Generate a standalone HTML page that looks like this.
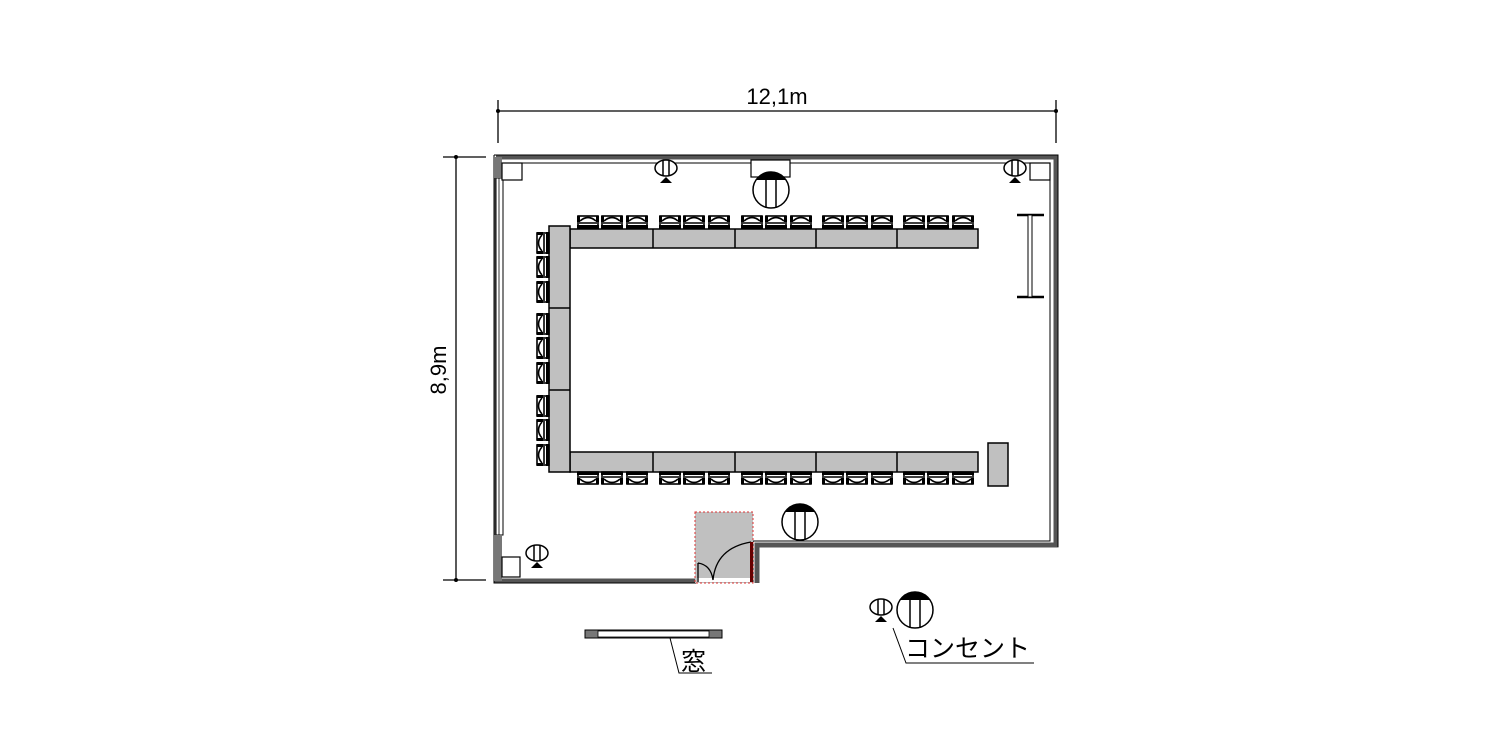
<!DOCTYPE html>
<html><head><meta charset="utf-8"><style>
html,body{margin:0;padding:0;background:#fff;width:1500px;height:750px;overflow:hidden}
svg{display:block}
text{font-family:"Liberation Sans","Noto Sans CJK JP",sans-serif;fill:#000}
</style></head><body>
<svg width="1500" height="750" viewBox="0 0 1500 750" xmlns="http://www.w3.org/2000/svg">
<defs>
  <g id="chair">
    <rect x="-10" y="-6" width="20" height="12" fill="#fff" stroke="#000" stroke-width="1.6"/>
    <path d="M-8,-1 Q0,-8 8,-1" fill="none" stroke="#000" stroke-width="1.6"/>
    <line x1="-9" y1="1" x2="9" y2="1" stroke="#000" stroke-width="1.6"/>
    <rect x="-11" y="3" width="22" height="3.5" fill="#000"/>
    <rect x="-11" y="-6" width="3" height="6" fill="#000"/>
    <rect x="8" y="-6" width="3" height="6" fill="#000"/>
  </g>
  <g id="outS">
    <ellipse cx="0" cy="0" rx="11" ry="8" fill="#fff" stroke="#000" stroke-width="1.5"/>
    <line x1="-3" y1="-8" x2="-3" y2="8" stroke="#000" stroke-width="1.5"/>
    <line x1="3" y1="-8" x2="3" y2="8" stroke="#000" stroke-width="1.5"/>
    <polygon points="0,9 -6,15 6,15" fill="#000"/>
  </g>
  <g id="outB">
    <circle cx="0" cy="0" r="18" fill="#fff" stroke="#000" stroke-width="1.5"/>
    <path d="M-15,-10 A18,18 0 0 1 15,-10 Z" fill="#000"/>
    <line x1="-5" y1="-10" x2="-5" y2="18" stroke="#000" stroke-width="1.5"/>
    <line x1="5" y1="-10" x2="5" y2="18" stroke="#000" stroke-width="1.5"/>
  </g>
</defs>

<g stroke="#000" stroke-width="1.3">
  <line x1="498" y1="111" x2="1056" y2="111"/>
  <line x1="498" y1="100" x2="498" y2="143"/>
  <line x1="1056" y1="100" x2="1056" y2="143"/>
  <line x1="456" y1="157" x2="456" y2="580"/>
  <line x1="443" y1="157" x2="486" y2="157"/>
  <line x1="443" y1="580" x2="486" y2="580"/>
</g>
<circle cx="498" cy="111" r="2" fill="#000"/><circle cx="1056" cy="111" r="2" fill="#000"/>
<circle cx="456" cy="157" r="2" fill="#000"/><circle cx="456" cy="580" r="2" fill="#000"/>
<text x="777" y="104" font-size="22" text-anchor="middle">12,1m</text>
<text transform="translate(446,370) rotate(-90)" font-size="22" text-anchor="middle">8,9m</text>

<g fill="none" stroke="#555" stroke-width="5">
  <path d="M496,157 H1056 V545 H757 V583"/>
  <path d="M496,157 V581 H697"/>
</g>
<g fill="none" stroke="#000" stroke-width="1">
  <path d="M494,155 H1058 V547"/>
  <path d="M502,163 H1050 V541 H753 V583"/>
  <path d="M494,155 V583 H697"/>
</g>
<rect x="496" y="178" width="7" height="357" fill="#fff" stroke="#000" stroke-width="1"/>
<line x1="499" y1="178" x2="499" y2="535" stroke="#000" stroke-width="0.8"/>
<rect x="494" y="157" width="8" height="21" fill="#777"/>
<rect x="494" y="535" width="8" height="46" fill="#777"/>
<g fill="#fff" stroke="#000" stroke-width="1.2">
  <rect x="502" y="163" width="20" height="17"/>
  <rect x="1030" y="163" width="20" height="17"/>
  <rect x="502" y="557" width="18" height="20"/>
  <rect x="751" y="160" width="39" height="17"/>
</g>

<g fill="#c0c0c0" stroke="#000" stroke-width="1.5">
  <rect x="570" y="229" width="408" height="19"/>
  <rect x="570" y="452" width="408" height="20"/>
  <rect x="549" y="226" width="21" height="246"/>
  <rect x="988" y="443" width="20" height="43"/>
</g>
<g stroke="#000" stroke-width="1.5">
  <line x1="653" y1="229" x2="653" y2="248"/><line x1="735" y1="229" x2="735" y2="248"/>
  <line x1="816" y1="229" x2="816" y2="248"/><line x1="897" y1="229" x2="897" y2="248"/>
  <line x1="653" y1="452" x2="653" y2="472"/><line x1="735" y1="452" x2="735" y2="472"/>
  <line x1="816" y1="452" x2="816" y2="472"/><line x1="897" y1="452" x2="897" y2="472"/>
  <line x1="549" y1="308" x2="570" y2="308"/><line x1="549" y1="390" x2="570" y2="390"/>
</g>
<g>
  <use href="#chair" x="588" y="222"/><use href="#chair" x="612" y="222"/><use href="#chair" x="637" y="222"/>
  <use href="#chair" x="670" y="222"/><use href="#chair" x="694" y="222"/><use href="#chair" x="719" y="222"/>
  <use href="#chair" x="752" y="222"/><use href="#chair" x="776" y="222"/><use href="#chair" x="801" y="222"/>
  <use href="#chair" x="833" y="222"/><use href="#chair" x="857" y="222"/><use href="#chair" x="882" y="222"/>
  <use href="#chair" x="914" y="222"/><use href="#chair" x="938" y="222"/><use href="#chair" x="963" y="222"/>
</g>
<g>
  <g transform="translate(588,478) rotate(180)"><use href="#chair"/></g>
  <g transform="translate(612,478) rotate(180)"><use href="#chair"/></g>
  <g transform="translate(637,478) rotate(180)"><use href="#chair"/></g>
  <g transform="translate(670,478) rotate(180)"><use href="#chair"/></g>
  <g transform="translate(694,478) rotate(180)"><use href="#chair"/></g>
  <g transform="translate(719,478) rotate(180)"><use href="#chair"/></g>
  <g transform="translate(752,478) rotate(180)"><use href="#chair"/></g>
  <g transform="translate(776,478) rotate(180)"><use href="#chair"/></g>
  <g transform="translate(801,478) rotate(180)"><use href="#chair"/></g>
  <g transform="translate(833,478) rotate(180)"><use href="#chair"/></g>
  <g transform="translate(857,478) rotate(180)"><use href="#chair"/></g>
  <g transform="translate(882,478) rotate(180)"><use href="#chair"/></g>
  <g transform="translate(914,478) rotate(180)"><use href="#chair"/></g>
  <g transform="translate(938,478) rotate(180)"><use href="#chair"/></g>
  <g transform="translate(963,478) rotate(180)"><use href="#chair"/></g>
</g>
<g>
  <g transform="translate(543,243) rotate(-90)"><use href="#chair"/></g>
  <g transform="translate(543,267) rotate(-90)"><use href="#chair"/></g>
  <g transform="translate(543,292) rotate(-90)"><use href="#chair"/></g>
  <g transform="translate(543,324) rotate(-90)"><use href="#chair"/></g>
  <g transform="translate(543,348) rotate(-90)"><use href="#chair"/></g>
  <g transform="translate(543,373) rotate(-90)"><use href="#chair"/></g>
  <g transform="translate(543,406) rotate(-90)"><use href="#chair"/></g>
  <g transform="translate(543,430) rotate(-90)"><use href="#chair"/></g>
  <g transform="translate(543,455) rotate(-90)"><use href="#chair"/></g>
</g>

<g stroke="#000">
  <line x1="1017" y1="215" x2="1044" y2="215" stroke-width="2.5"/>
  <line x1="1017" y1="297" x2="1044" y2="297" stroke-width="2.5"/>
  <rect x="1028" y="215" width="4" height="82" fill="#fff" stroke-width="1"/>
</g>

<rect x="695" y="512" width="58" height="71" fill="#c0c0c0" stroke="#d33" stroke-width="1" stroke-dasharray="2,2"/>
<rect x="697" y="578" width="54" height="4" fill="#fff"/>
<path d="M698,582 V563 M698,563 Q711,565 713,580 Q716,548 751,542" fill="none" stroke="#000" stroke-width="1.3"/>
<rect x="750" y="542" width="3" height="40" fill="#600"/>

<use href="#outS" x="666" y="168"/>
<use href="#outS" x="1015" y="168"/>
<use href="#outS" x="537" y="553"/>
<use href="#outB" x="771" y="190"/>
<use href="#outB" x="800" y="522"/>

<rect x="585" y="630" width="137" height="8" fill="#777" stroke="#000" stroke-width="1"/>
<rect x="598" y="631" width="111" height="6" fill="#fff" stroke="#000" stroke-width="0.8"/>
<polyline points="670,638 679,673 712,673" fill="none" stroke="#000" stroke-width="1"/>
<text x="681" y="670" font-size="25">窓</text>
<use href="#outS" x="881" y="607"/>
<use href="#outB" x="915" y="610"/>
<polyline points="893,628 906,663 1034,663" fill="none" stroke="#000" stroke-width="1"/>
<text x="905" y="657" font-size="25">コンセント</text>
</svg>
</body></html>
